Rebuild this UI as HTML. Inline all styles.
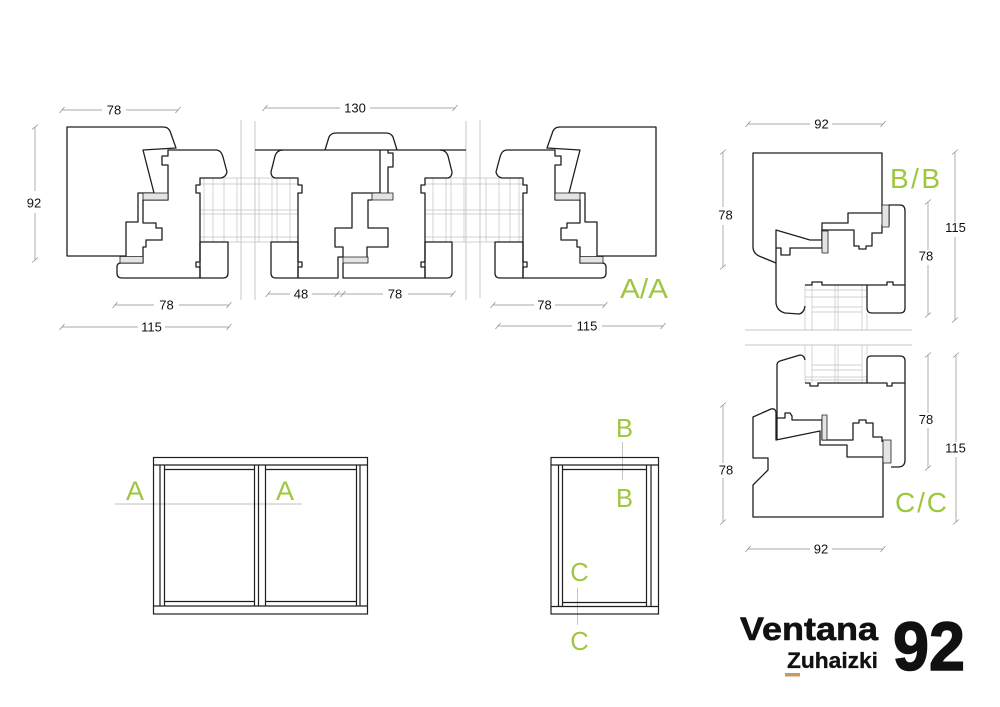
<!DOCTYPE html>
<html><head><meta charset="utf-8"><style>
html,body{margin:0;padding:0;background:#fff;}
svg{display:block;}
.d{font-family:"Liberation Sans",sans-serif;font-size:13px;fill:#111;text-anchor:middle;}
.g{font-family:"Liberation Sans",sans-serif;fill:#9ec641;}
</style></head><body>
<svg width="1000" height="707" viewBox="0 0 1000 707" xmlns="http://www.w3.org/2000/svg">
<rect width="1000" height="707" fill="#fff"/>

<!-- section break lines -->
<g stroke="#c4c4c4" stroke-width="0.9" fill="none">
<path d="M241,120V300 M255,121V300 M466,121V300 M480,120V298"/>
<path d="M745,330H912 M745,345H912"/>
</g>

<!-- glass grids A/A -->
<g stroke="#c2c2c2" stroke-width="0.7" fill="none">
<path d="M200,178H298 M200,184H298 M200,210H298 M200,214H298 M200,237H298 M200,242H298"/>
<path d="M204,178V242 M213,178V242 M224,178V242 M237,178V242 M259,178V242 M272,178V242 M277,178V242 M290,178V242"/>
<path d="M425,178H523 M425,184H523 M425,210H523 M425,214H523 M425,237H523 M425,242H523"/>
<path d="M433,178V242 M446,178V242 M451,178V242 M464,178V242 M486,178V242 M499,178V242 M510,178V242 M519,178V242"/>
<!-- B/B glass -->
<path d="M805,285V330 M812,285V330 M835,285V330 M838,285V330 M862,285V330 M867,313V330"/>
<path d="M805,290H867 M805,297H867 M812,307H862 M812,312H862"/>
<!-- C/C glass -->
<path d="M805,345V383 M812,345V383 M835,345V383 M838,345V383 M862,345V383 M867,345V356"/>
<path d="M812,365H862 M812,370H862 M805,377H867 M805,380H867"/>
</g>

<!-- A/A right section profile -->
<g id="secR" fill="none" stroke="#1e1e1e" stroke-width="1.3" stroke-linejoin="round">
<path d="M547,148 L553,131 Q555,127 560,127 H656 V256 H597 V222 H585 V193 H569 L580,150 Z"/>
<path d="M507,150 H555 V156 H561 V165 H555 V200 H580 V223 H567 V228 H561 V240 H577 V247 H580 V263 H602 Q606,263 606,267 V273 Q606,278 601,278 H523 V267 H527 V262 H523 V193 H527 V185 H523 V178 H502 Q497,177 496,172 L500,157 Q502,150 507,150 Z"/>
<path d="M495,242 H523 V278 H500 Q495,278 495,273 Z"/>
<rect x="555" y="193" width="25" height="7" fill="#e4e4e4" stroke-width="0.8"/>
<rect x="580" y="256.5" width="23" height="6.5" fill="#e4e4e4" stroke-width="0.8"/>
</g>
<!-- A/A left section (mirror) -->
<g transform="matrix(-1 0 0 1 723 0)" fill="none" stroke="#1e1e1e" stroke-width="1.3" stroke-linejoin="round">
<path d="M547,148 L553,131 Q555,127 560,127 H656 V256 H597 V222 H585 V193 H569 L580,150 Z"/>
<path d="M507,150 H555 V156 H561 V165 H555 V200 H580 V223 H567 V228 H561 V240 H577 V247 H580 V263 H602 Q606,263 606,267 V273 Q606,278 601,278 H523 V267 H527 V262 H523 V193 H527 V185 H523 V178 H502 Q497,177 496,172 L500,157 Q502,150 507,150 Z"/>
<path d="M495,242 H523 V278 H500 Q495,278 495,273 Z"/>
<rect x="555" y="193" width="25" height="7" fill="#e4e4e4" stroke-width="0.8"/>
<rect x="580" y="256.5" width="23" height="6.5" fill="#e4e4e4" stroke-width="0.8"/>
</g>

<!-- A/A middle -->
<g fill="none" stroke="#1e1e1e" stroke-width="1.3" stroke-linejoin="round">
<path d="M255,150H466"/>
<path d="M325,150 L329,137 Q331,133 336,133 H386 Q391,133 393,137 L397,150"/>
<path d="M283,150 Q277,150 275,156 L271,172 Q271,177 275,178 H298 V185 H302 V193 H298 V262 H302 V267 H298 V278 H338 V257 H343 V247 H335 V228 H352 V193 H380 V150"/>
<path d="M372,200 H368 V228 H388 V247 H367 V257"/>
<path d="M343,263 V278 H425 V267 H421 V262 H425 V193 H421 V185 H425 V178 H448 Q452,177 452,172 L448,156 Q446,150 440,150"/>
<path d="M388,150 V153 H393 V167 H388 V193"/>
<path d="M271,242 H298 V278 H276 Q271,278 271,273 Z"/>
<path d="M452,242 H425 V278 H447 Q452,278 452,273 Z"/>
<rect x="372" y="193" width="21" height="7" fill="#e4e4e4" stroke-width="0.8"/>
<rect x="343" y="257" width="25" height="6" fill="#e4e4e4" stroke-width="0.8"/>
</g>

<!-- B/B -->
<g fill="none" stroke="#1e1e1e" stroke-width="1.3" stroke-linejoin="round">
<path d="M753,153 H882 V213 H848 V223 H822 V240 H810 L776,230 V263 L759,256 Q753,253 753,247 Z"/>
<path d="M776,248 H781 V255 H790 V248 H822 V230 H854 V246 H859 V249 H866 V246 H872 V233 H882 V225 H889 V205 H900 Q905,205 905,211 V308 Q905,313 900,313 H872 Q867,313 867,308 V285"/>
<path d="M905,285 H893 V282 H887 V285 H822 V282 H812 V285 H805"/>
<path d="M776,263 V303 Q777,311 785,313 L799,314 Q804,313 805,306"/>
<rect x="882" y="205" width="7" height="22" fill="#e4e4e4" stroke-width="0.8"/>
<rect x="822" y="231" width="6" height="22" fill="#e4e4e4" stroke-width="0.8"/>
</g>

<!-- C/C -->
<g fill="none" stroke="#1e1e1e" stroke-width="1.3" stroke-linejoin="round">
<path d="M777,440 V365 Q777,362 780,361 L800,355 Q804,355 805,360"/>
<path d="M867,383 V360 Q867,356 871,356 H900 Q905,356 905,361 V460 Q905,467 898,467 H891"/>
<path d="M805,383 H810 V386 H818 V383 H887 V386 H892 V383 H905"/>
<path d="M777,418 H785 V413 H790 L792,416 V420 H822 V440 H853 V423 H859 V420 H866 V423 H873 V437 H882 V442"/>
<path d="M753,417 L771,409 Q775,408 776,412 V440 L820,431 V445 H847 V457 H883 V517 H753 V485 L768,470 V458 H753 Z"/>
<rect x="822" y="415" width="5" height="25" fill="#e4e4e4" stroke-width="0.8"/>
<rect x="883" y="440" width="8" height="23" fill="#e4e4e4" stroke-width="0.8"/>
</g>

<!-- dimension lines -->
<g stroke="#8c8c8c" stroke-width="0.7" fill="none">
<path d="M62,110H102 M126,110H178 M59.5,113L64.5,107 M175.5,113L180.5,107"/>
<path d="M35,127V191 M35,213V260 M32,129.5L38,124.5 M32,262.5L38,257.5"/>
<path d="M115,305H154 M179,305H229 M112.5,308L117.5,302 M226.5,308L231.5,302"/>
<path d="M62,327H138 M165,327H229 M59.5,330L64.5,324 M226.5,330L231.5,324"/>
<path d="M265,108H340 M370,108H455 M262.5,111L267.5,105 M452.5,111L457.5,105"/>
<path d="M268,294H290 M312,294H383 M408,294H453 M265.5,297L270.5,291 M334.5,297L339.5,291 M340.5,297L345.5,291 M450.5,297L455.5,291"/>
<path d="M493,305H534 M555,305H605 M490.5,308L495.5,302 M602.5,308L607.5,302"/>
<path d="M498,326H572 M602,326H663 M495.5,329L500.5,323 M660.5,329L665.5,323"/>
<path d="M748,124H810 M832,124H883 M745.5,127L750.5,121 M880.5,127L885.5,121"/>
<path d="M723,152V207 M723,225V267 M720,154.5L726,149.5 M720,269.5L726,264.5"/>
<path d="M928,202V250 M928,265V315 M925,204.5L931,199.5 M925,317.5L931,312.5"/>
<path d="M955,152V222 M955,237V320 M952,154.5L958,149.5 M952,322.5L958,317.5"/>
<path d="M723,405V463 M723,478V522 M720,407.5L726,402.5 M720,524.5L726,519.5"/>
<path d="M928,355V413 M928,428V468 M925,357.5L931,352.5 M925,470.5L931,465.5"/>
<path d="M956,355V442 M956,457V522 M953,357.5L959,352.5 M953,524.5L959,519.5"/>
<path d="M748,549H810 M832,549H883 M745.5,552L750.5,546 M880.5,552L885.5,546"/>
</g>
<g class="d">
<text x="114" y="114.5">78</text>
<text x="34" y="207.5">92</text>
<text x="166.5" y="309.5">78</text>
<text x="151.5" y="331.5">115</text>
<text x="355" y="112.5">130</text>
<text x="301" y="298.5">48</text>
<text x="395" y="298.5">78</text>
<text x="544.5" y="309.5">78</text>
<text x="587" y="330.5">115</text>
<text x="821.5" y="128.5">92</text>
<text x="725.5" y="219.5">78</text>
<text x="926" y="260.5">78</text>
<text x="955.5" y="232">115</text>
<text x="726" y="474.5">78</text>
<text x="926" y="424">78</text>
<text x="955.5" y="452.5">115</text>
<text x="821" y="553.5">92</text>
</g>

<!-- green section labels -->
<g class="g">
<text x="620" y="298" font-size="28" textLength="48" lengthAdjust="spacingAndGlyphs">A/A</text>
<text x="890" y="188" font-size="28" textLength="50" lengthAdjust="spacing">B/B</text>
<text x="895" y="512" font-size="28" textLength="52" lengthAdjust="spacing">C/C</text>
<g text-anchor="middle" font-size="27">
<text x="135" y="500">A</text>
<text x="285" y="500">A</text>
</g>
<g text-anchor="middle" font-size="25.5">
<text x="624.5" y="437">B</text>
<text x="624.5" y="507">B</text>
<text x="579.5" y="581">C</text>
<text x="579.5" y="650">C</text>
</g>
</g>

<!-- elevations -->
<g stroke="#c0c0c0" stroke-width="0.9" fill="none">
<path d="M115,504H302 M622.5,442V480 M577.5,588V625"/>
</g>
<g fill="none" stroke="#1e1e1e" stroke-width="1.2">
<rect x="153.5" y="457.5" width="214" height="156.5"/>
<path d="M153.5,465H367.5 M153.5,606H367.5 M160,465V606 M164.5,465V606 M254.5,465V606 M258.5,465V606 M265.5,465V606 M356.5,465V606 M360,465V606 M164.5,469.5H254.5 M265.5,469.5H356.5 M164.5,601.5H254.5 M265.5,601.5H356.5"/>
<rect x="551" y="457.5" width="107.5" height="156.5"/>
<path d="M551,465H658.5 M551,606.5H658.5 M558.5,465V606.5 M562.5,465V606.5 M646.5,465V606.5 M651,465V606.5 M562.5,469.5H646.5 M562.5,602.5H646.5"/>
</g>

<!-- logo -->
<g font-family="Liberation Sans, sans-serif" font-weight="bold" fill="#111">
<text x="740" y="640" font-size="32" textLength="138" lengthAdjust="spacingAndGlyphs" stroke="#111" stroke-width="0.6">Ventana</text>
<text x="787" y="668" font-size="22.5" textLength="91" lengthAdjust="spacingAndGlyphs" stroke="#111" stroke-width="0.3">Zuhaizki</text>
<text x="893" y="670" font-size="69" textLength="72" lengthAdjust="spacingAndGlyphs" stroke="#111" stroke-width="1.5">92</text>
</g>
<rect x="785" y="673" width="15" height="3.5" fill="#c9976a"/>
</svg>
</body></html>
